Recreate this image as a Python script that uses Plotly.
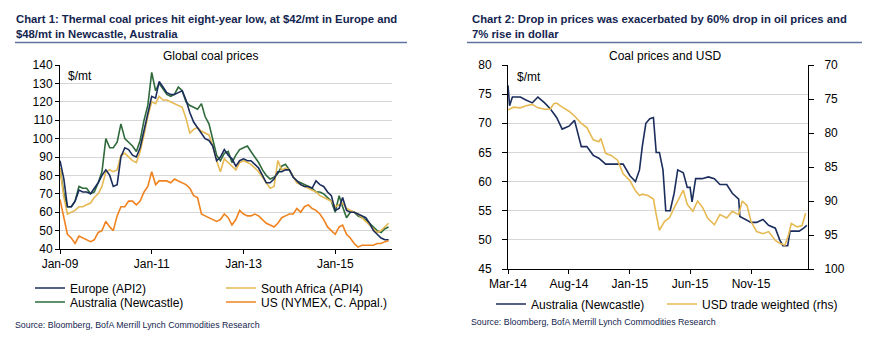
import pandas as pd
import plotly.graph_objects as go

W, H = 887, 342

# ---------------- Chart 1 data (monthly, $/mt) ----------------
months = pd.date_range("2009-01-01", periods=87, freq="MS")

europe_api2 = [
    88, 78, 63, 63, 66, 72, 71, 71, 70, 73, 76, 80,
    83, 80, 74, 75, 90, 95, 94, 91, 90, 95, 104, 114,
    123, 122, 131, 128, 125, 124, 124, 125, 126, 121, 114, 109,
    106, 103, 100, 99, 96, 88, 90, 94, 91, 89, 85, 88,
    89, 88, 88, 86, 84, 80, 76, 76, 78, 82, 82, 83,
    83, 79, 77, 75, 74, 74, 73, 77, 75, 74, 71, 69,
    61, 62, 68, 61, 60, 60, 59, 58, 57, 54, 50, 48,
    46, 45, 45,
]
australia_newc = [
    84, 70, 63, 63, 66, 74, 73, 73, 70, 71, 76, 82,
    100, 95, 95, 98, 108, 100, 98, 96, 93, 99, 110, 118,
    136, 126, 130, 127, 124, 123, 124, 128, 126, 120, 118, 117,
    116, 119, 112, 108, 100, 91, 88, 92, 93, 87, 91, 94,
    95, 96, 93, 90, 87, 83, 80, 78, 79, 81, 85, 86,
    83, 79, 77, 76, 75, 74, 73, 71, 71, 70, 68, 66,
    60, 69, 63, 57, 60, 60, 58, 57, 56, 54, 52, 50,
    49, 51, 52,
]
south_africa_api4 = [
    84, 68, 59, 60, 61, 63, 63, 64, 65, 68, 70, 74,
    82, 83, 82, 83, 91, 92, 90, 88, 87, 93, 102, 112,
    120, 119, 123, 121, 121, 120, 119, 118, 117, 111, 103, 105,
    106, 104, 103, 102, 96, 88, 82, 89, 87, 85, 83, 87,
    88, 87, 86, 84, 82, 79, 76, 73, 74, 88, 83, 84,
    83, 79, 76, 75, 74, 73, 72, 71, 69, 68, 67, 66,
    63, 64, 65, 62, 61, 60, 59, 57, 55, 53, 51, 49,
    50, 52, 54,
]
us_nymex_capp = [
    67, 57, 48, 46, 43, 47, 46, 45, 44, 45, 49, 50,
    55, 52, 50, 58, 63, 63, 66, 66, 64, 66, 71, 74,
    82, 75, 77, 77, 77, 76, 78, 77, 76, 75, 73, 69,
    68, 59, 58, 57, 56, 55, 56, 59, 57, 53, 56, 61,
    59, 58, 58, 59, 58, 56, 54, 53, 52, 54, 57, 58,
    59, 59, 62, 60, 63, 64, 62, 61, 59, 56, 52, 50,
    48, 52, 53, 48, 46, 43, 41, 42, 42, 42, 42, 43,
    43, 44, 44.5,
]

# ---------------- Chart 2 data ----------------
newc_dates = [
    "2014-03-01", "2014-03-05", "2014-03-12", "2014-04-01", "2014-04-15",
    "2014-05-01", "2014-05-15", "2014-06-01", "2014-06-15", "2014-07-01",
    "2014-07-15", "2014-08-01", "2014-08-15", "2014-09-01", "2014-09-15",
    "2014-10-01", "2014-10-15", "2014-11-01", "2014-11-15", "2014-12-01",
    "2014-12-15", "2015-01-01", "2015-01-15", "2015-01-25", "2015-02-01",
    "2015-02-10", "2015-02-20", "2015-03-01", "2015-03-08", "2015-03-16",
    "2015-03-25", "2015-04-01", "2015-04-12", "2015-04-22", "2015-05-01",
    "2015-05-15", "2015-05-25", "2015-06-01", "2015-06-06", "2015-06-15",
    "2015-07-01", "2015-07-17", "2015-08-01", "2015-08-15", "2015-09-01",
    "2015-09-15", "2015-10-01", "2015-10-04", "2015-10-18", "2015-11-01",
    "2015-11-15", "2015-12-01", "2015-12-15", "2016-01-01", "2016-01-12",
    "2016-01-20", "2016-02-01", "2016-02-07", "2016-02-20", "2016-03-01",
    "2016-03-12", "2016-03-20",
]
newc_price = [
    76.5, 73, 74.5, 74.5, 74,
    73.5, 74.5, 73.5, 72.5, 71,
    69, 69.5, 70.5, 66, 66,
    64.5, 64, 63, 63, 63,
    63, 61, 60, 62, 66,
    70, 70.8, 71, 65, 65,
    62, 55, 55, 58, 62,
    61.5, 59, 59, 56.5, 60.5,
    60.5, 60.8, 60.5, 59.5, 59.5,
    58, 57, 54, 53.5, 53,
    53, 53.5, 52.5, 52, 50,
    49, 49, 51.5, 51.5, 51.5,
    52, 52.5,
]
usd_dates = [
    "2014-03-01", "2014-03-15", "2014-04-01", "2014-04-15", "2014-05-01",
    "2014-05-15", "2014-06-01", "2014-06-15", "2014-06-24", "2014-07-01",
    "2014-07-15", "2014-08-01", "2014-08-15", "2014-09-01", "2014-09-15",
    "2014-10-01", "2014-10-15", "2014-10-20", "2014-11-01", "2014-11-15",
    "2014-12-01", "2014-12-15", "2015-01-01", "2015-01-15", "2015-01-25",
    "2015-02-01", "2015-02-15", "2015-03-01", "2015-03-08", "2015-03-16",
    "2015-03-29", "2015-04-10", "2015-04-22", "2015-05-08", "2015-05-15",
    "2015-05-25", "2015-06-08", "2015-06-20", "2015-07-03", "2015-07-15",
    "2015-08-01", "2015-08-15", "2015-09-01", "2015-09-15", "2015-10-01",
    "2015-10-10", "2015-10-22", "2015-11-01", "2015-11-15", "2015-12-01",
    "2015-12-15", "2016-01-01", "2016-01-12", "2016-01-25", "2016-02-03",
    "2016-02-10", "2016-02-25", "2016-03-08", "2016-03-17",
]
usd_index = [
    76.6, 76.2, 76.3, 76, 75.8,
    76.3, 76.5, 76.5, 75.7, 75.6,
    76.2, 76.8, 77.5, 78.6, 79.2,
    81, 81.3, 80.8, 83, 83.3,
    84, 86, 87, 88.5, 89.2,
    89, 89.2, 89.7, 92, 94.3,
    93, 92.5, 91, 89.3, 88.4,
    90.5, 91.5, 90, 91, 92.5,
    93.5, 92, 92.5, 91.5, 92,
    90, 90.7, 93, 94.5, 94.8,
    94.5, 95.8, 96.2, 96.5, 95,
    93.3, 93.8, 93.6, 91.8,
]

NAVY = "#1b2d5c"
GREEN = "#2e6a3b"
GOLD = "#e6b952"
ORANGE = "#f0831f"
TITLE_C = "#14254f"
RULE_C = "#5f73a0"
FONT = "Liberation Sans, Arial, sans-serif"
TFONT = "Liberation Sans, Arial, sans-serif"


def px_x(x):
    return x / W


def px_y(y):
    return 1 - y / H


fig = go.Figure()

lw = 1.6
fig.add_trace(go.Scatter(x=months, y=australia_newc, name="Australia (Newcastle)", mode="lines",
                         line=dict(color=GREEN, width=lw), xaxis="x", yaxis="y", legend="legend2"))
fig.add_trace(go.Scatter(x=months, y=south_africa_api4, name="South Africa (API4)", mode="lines",
                         line=dict(color=GOLD, width=lw), xaxis="x", yaxis="y", legend="legend3"))
fig.add_trace(go.Scatter(x=months, y=europe_api2, name="Europe (API2)", mode="lines",
                         line=dict(color=NAVY, width=lw), xaxis="x", yaxis="y", legend="legend"))
fig.add_trace(go.Scatter(x=months, y=us_nymex_capp, name="US (NYMEX, C. Appal.)", mode="lines",
                         line=dict(color=ORANGE, width=lw), xaxis="x", yaxis="y", legend="legend4"))
fig.add_trace(go.Scatter(x=pd.to_datetime(newc_dates), y=newc_price, name="Australia (Newcastle)",
                         mode="lines", line=dict(color=NAVY, width=lw), xaxis="x2", yaxis="y2",
                         legend="legend5"))
fig.add_trace(go.Scatter(x=pd.to_datetime(usd_dates), y=usd_index, name="USD trade weighted (rhs)",
                         mode="lines", line=dict(color=GOLD, width=lw), xaxis="x2", yaxis="y3",
                         legend="legend6"))

axis_common = dict(showline=True, linecolor="black", linewidth=1, ticks="outside",
                   tickcolor="black", tickwidth=1, zeroline=False,
                   tickfont=dict(family=FONT, size=12, color="black"))

fig.update_layout(
    width=W, height=H, margin=dict(l=0, r=0, t=0, b=0, pad=0, autoexpand=False),
    paper_bgcolor="white", plot_bgcolor="white", showlegend=True,
    xaxis=dict(domain=[px_x(60), px_x(392)], anchor="y",
               range=["2009-01-01", "2016-03-28"], type="date",
               tick0="2009-01-01", dtick="M24", tickformat="%b-%y",
               ticklen=4, showgrid=False, **axis_common),
    yaxis=dict(domain=[px_y(249), px_y(65)], anchor="x", range=[40, 140], dtick=10,
               ticklen=4, showgrid=True, gridcolor="#d6d6d6", gridwidth=1, **axis_common),
    xaxis2=dict(domain=[px_x(508), px_x(808)], anchor="y2",
                range=["2014-03-01", "2016-03-23"], type="date",
                tick0="2014-03-01", dtick="M5", tickformat="%b-%y",
                ticklen=4, showgrid=False, **axis_common),
    yaxis2=dict(domain=[px_y(269), px_y(65)], anchor="x2", range=[45, 80], dtick=5,
                ticklen=5, ticklabelstandoff=8, showgrid=True, gridcolor="#d6d6d6",
                gridwidth=1, **axis_common),
    yaxis3=dict(domain=[px_y(269), px_y(65)], anchor="x2", overlaying="y2", side="right",
                range=[100, 70], dtick=5, ticklen=5, ticklabelstandoff=8, showgrid=False,
                **axis_common),
)

leg_font = dict(family=FONT, size=12, color="black")


def leg(x, y):
    return dict(x=px_x(x), y=px_y(y), xanchor="left", yanchor="middle", orientation="h",
                bgcolor="rgba(0,0,0,0)", borderwidth=0, font=leg_font, itemwidth=30,
                itemclick=False, itemdoubleclick=False)


fig.update_layout(
    legend=leg(30, 288), legend2=leg(30, 302),
    legend3=leg(221, 288), legend4=leg(221, 302),
    legend5=leg(491, 304), legend6=leg(662, 304),
)

ann = []
ann.append(dict(text="<b>Chart 1: Thermal coal prices hit eight-year low, at $42/mt in Europe and<br>$48/mt in Newcastle, Australia</b>",
                x=px_x(14), y=px_y(11), xanchor="left", yanchor="top", align="left",
                font=dict(family=TFONT, size=11.3, color=TITLE_C)))
ann.append(dict(text="<b>Chart 2: Drop in prices was exacerbated by 60% drop in oil prices and<br>7% rise in dollar</b>",
                x=px_x(470), y=px_y(11), xanchor="left", yanchor="top", align="left",
                font=dict(family=TFONT, size=11.3, color=TITLE_C)))
ann.append(dict(text="Global coal prices", x=px_x(210), y=px_y(56), xanchor="center",
                yanchor="middle", font=dict(family=FONT, size=12, color="black")))
ann.append(dict(text="Coal prices and USD", x=px_x(665), y=px_y(56), xanchor="center",
                yanchor="middle", font=dict(family=FONT, size=12, color="black")))
ann.append(dict(text="$/mt", x=px_x(66), y=px_y(76), xanchor="left", yanchor="middle",
                font=dict(family=FONT, size=12, color="black")))
ann.append(dict(text="$/mt", x=px_x(515), y=px_y(77), xanchor="left", yanchor="middle",
                font=dict(family=FONT, size=12, color="black")))
ann.append(dict(text="Source: Bloomberg, BofA Merrill Lynch Commodities Research",
                x=px_x(13), y=px_y(325), xanchor="left", yanchor="middle",
                font=dict(family=TFONT, size=8.8, color=TITLE_C)))
ann.append(dict(text="Source: Bloomberg, BofA Merrill Lynch Commodities Research",
                x=px_x(469), y=px_y(322), xanchor="left", yanchor="middle",
                font=dict(family=TFONT, size=8.8, color=TITLE_C)))
for a in ann:
    a.update(xref="paper", yref="paper", showarrow=False)
fig.update_layout(annotations=ann)

fig.update_layout(shapes=[
    dict(type="line", xref="paper", yref="paper", x0=px_x(15), x1=px_x(407),
         y0=px_y(42.5), y1=px_y(42.5), line=dict(color=RULE_C, width=1.5)),
    dict(type="line", xref="paper", yref="paper", x0=px_x(467), x1=px_x(862),
         y0=px_y(42.5), y1=px_y(42.5), line=dict(color=RULE_C, width=1.5)),
])

fig.write_html("out.html")
